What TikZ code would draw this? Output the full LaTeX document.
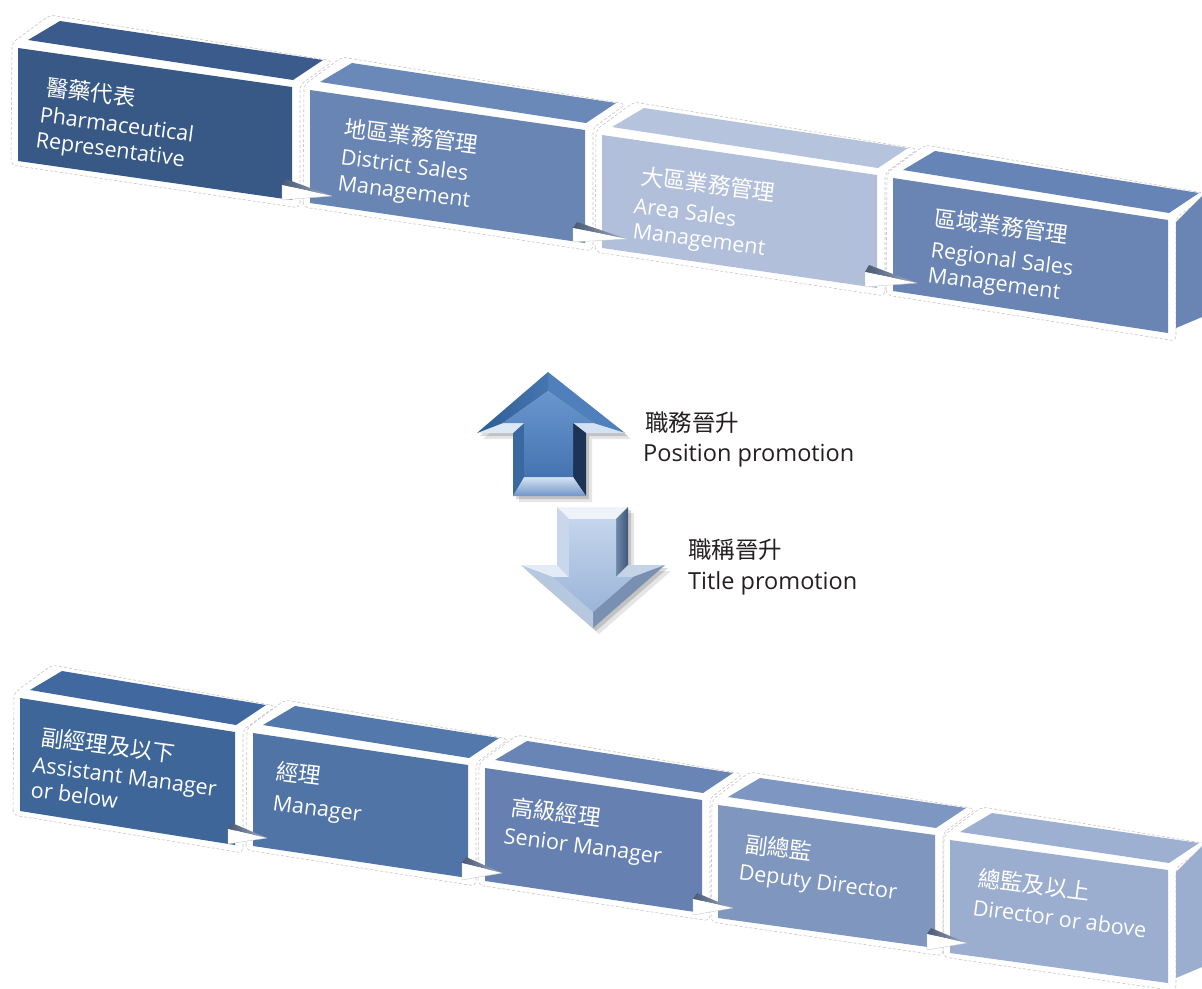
\documentclass[tikz,border=0pt]{standalone}
\usepackage{fontspec}
\setmainfont{Open Sans}
\newfontfamily\cjk{Noto Sans CJK TC}
\definecolor{ta}{HTML}{385886}
\definecolor{tat}{HTML}{3A5B8B}
\definecolor{tb}{HTML}{6985B3}
\definecolor{tbt}{HTML}{6A88B8}
\definecolor{tc}{HTML}{B2BFDA}
\definecolor{tct}{HTML}{B6C3DD}
\definecolor{td}{HTML}{6A85B3}
\definecolor{tdt}{HTML}{6784B6}
\definecolor{ba}{HTML}{3F6699}
\definecolor{bat}{HTML}{4169A0}
\definecolor{bb}{HTML}{5074A6}
\definecolor{bbt}{HTML}{5278AC}
\definecolor{bc}{HTML}{6681B1}
\definecolor{bct}{HTML}{6885B6}
\definecolor{bd}{HTML}{7F96BE}
\definecolor{bdt}{HTML}{7E97C2}
\definecolor{be}{HTML}{9CAECF}
\definecolor{bet}{HTML}{9DB0D2}
\definecolor{outlc}{HTML}{CFC3C3}
\definecolor{ptd}{HTML}{56698A}
\definecolor{txtc}{HTML}{231F20}
% up arrow colours
\definecolor{ua}{HTML}{4F80BB}
\definecolor{ub}{HTML}{D3E2F2}
\definecolor{uc}{HTML}{1C3556}
\definecolor{ud1}{HTML}{D5E3F3}
\definecolor{ud2}{HTML}{6F95C6}
\definecolor{ue}{HTML}{3A68A1}
\definecolor{uf}{HTML}{DCE8F5}
\definecolor{ug1}{HTML}{2E5C95}
\definecolor{ug2}{HTML}{4676B0}
\definecolor{uh1}{HTML}{6A96CE}
\definecolor{uh2}{HTML}{4474B0}
% down arrow colours
\definecolor{da}{HTML}{EEF3FA}
\definecolor{db1}{HTML}{7088AA}
\definecolor{db2}{HTML}{3F5778}
\definecolor{dc}{HTML}{C4D3E6}
\definecolor{dd}{HTML}{7990B2}
\definecolor{de}{HTML}{B6C8E0}
\definecolor{df}{HTML}{E3ECF6}
\definecolor{dg}{HTML}{C9D7EA}
\definecolor{dh1}{HTML}{C4D5EC}
\definecolor{dh2}{HTML}{9BB4D8}
\tikzset{
  outl/.style={draw=outlc, line width=0.6pt, dash pattern=on 3pt off 2pt, rounded corners=5pt},
  en/.style={anchor=base west, inner sep=0pt, text=white, rotate=-7.5, font=\fontsize{21.5}{25}\selectfont},
  cj/.style={anchor=base west, inner sep=0pt, text=white, rotate=-7.5, font=\cjk\fontsize{22.5}{27}\selectfont},
  midtxt/.style={anchor=base west, inner sep=0pt, text=txtc, font=\fontsize{23.5}{28}\selectfont},
  midcj/.style={anchor=base west, inner sep=0pt, text=txtc, font=\cjk\fontsize{23.5}{28}\selectfont},
  ptedge/.style={draw=gray!45, line width=0.4pt},
}
\newcommand\boxoutline[4]{%
  \draw[outl] ({#1-7},{#2+117}) -- ({#1-6},{#2-5}) -- ({#1+32},{#2-33}) -- ({#3+41},{#4-26}) -- ({#3+8},{#4-2}) -- ({#3+8},{#4+121}) -- cycle;}
\newcommand\boxfaces[6]{%
  \fill[#6] ({#1+10},{#2-8}) -- ({#1+42},{#2-27}) -- ({#3+31},{#4-27}) -- ({#3+1},{#4-7}) -- cycle;
  \fill[#5] (#1,#2) -- (#3,#4) -- (#3,{#4+113}) -- (#1,{#2+113}) -- cycle;}
\newcommand\sideface[3]{%
  \fill[#3] ({#1+8},{#2+2}) -- ({#1+34},{#2-24}) -- ({#1+34},{#2+97}) -- ({#1+8},{#2+108}) -- cycle;}
\newcommand\pointer[6]{%
  \shade[left color=ptd!85!black, right color=ptd!55!white] ({#1+4},#2) -- (#5,#6) -- (#1,#3) -- cycle;
  \fill[white] (#1,#3) -- (#5,#6) -- (#1,#4) -- cycle;
  \draw[ptedge] (#1,#3) -- (#1,#4) -- (#5,#6);}
\begin{document}
\begin{tikzpicture}[x=1pt,y=-1pt]
\useasboundingbox (0,0) rectangle (1202,988);
\fill[white] (0,0) rectangle (1202,988);
\clip (0,0) rectangle (1202,988);

% ---- outlines
\boxoutline{18}{48}{292}{87}
\boxoutline{310}{90}{585}{130}
\boxoutline{602}{135}{877}{175}
\boxoutline{893}{178}{1168}{220}
\boxoutline{20}{698}{235}{732}
\boxoutline{253}{733}{468}{765}
\boxoutline{485}{768}{702}{800}
\boxoutline{718}{805}{935}{835}
\boxoutline{950}{840}{1168}{870}

% ---- top row
\boxfaces{18}{48}{292}{87}{ta}{tat}
\boxfaces{310}{90}{585}{130}{tb}{tbt}
\boxfaces{602}{135}{877}{175}{tc}{tct}
\boxfaces{893}{178}{1168}{220}{td}{tdt}
\sideface{1168}{220}{td}

% ---- bottom row
\boxfaces{20}{698}{235}{732}{ba}{bat}
\boxfaces{253}{733}{468}{765}{bb}{bbt}
\boxfaces{485}{768}{702}{800}{bc}{bct}
\boxfaces{718}{805}{935}{835}{bd}{bdt}
\boxfaces{950}{840}{1168}{870}{be}{bet}
\sideface{1168}{870}{be}

% ---- pointers between boxes
\pointer{282}{179}{185}{200}{332}{196}
\pointer{573}{222}{228}{242}{627}{239}
\pointer{865}{265}{272}{287}{917}{283}
\pointer{228}{823}{829}{844}{267}{838}
\pointer{462}{857}{863}{880}{502}{873}
\pointer{693}{893}{899}{915}{733}{908}
\pointer{927}{928}{934}{950}{967}{943}

% ---- texts top row
\node[cj] (t1a) at (45,95) {醫藥代表};
\node[en] (t1b) at (39,122) {Pharmaceutical};
\node[en] (t1c) at (35,147) {Representative};
\node[cj] (t2a) at (343,136) {地區業務管理};
\node[en] (t2b) at (340,164) {District Sales};
\node[en] (t2c) at (337,190) {Management};
\node[cj] (t3a) at (640,184) {大區業務管理};
\node[en] (t3b) at (633,213) {Area Sales};
\node[en] (t3c) at (632,238) {Management};
\node[cj] (t4a) at (933,226) {區域業務管理};
\node[en] (t4b) at (930,257) {Regional Sales};
\node[en] (t4c) at (927,282) {Management};

% ---- texts bottom row
\node[cj] (b1a) at (40,745) {副經理及以下};
\node[en] (b1b) at (32,772) {Assistant Manager};
\node[en] (b1c) at (30,797) {or below};
\node[cj] (b2a) at (275,779) {經理};
\node[en] (b2b) at (272,810) {Manager};
\node[cj] (b3a) at (510,815) {高級經理};
\node[en] (b3b) at (503,843) {Senior Manager};
\node[cj] (b4a) at (744,852) {副總監};
\node[en] (b4b) at (738,879) {Deputy Director};
\node[cj] (b5a) at (977,886) {總監及以上};
\node[en] (b5b) at (972,915) {Director or above};

% ---- up arrow (position promotion)
\begin{scope}[shift={(6,6)}]
\fill[black,opacity=0.10] (548,372) -- (625,433) -- (586,433) -- (586,496) -- (513,496) -- (513,433) -- (477,433) -- cycle;
\end{scope}
\begin{scope}[shift={(3,3)}]
\fill[black,opacity=0.15] (548,372) -- (625,433) -- (586,433) -- (586,496) -- (513,496) -- (513,433) -- (477,433) -- cycle;
\end{scope}
\coordinate (uT) at (548,372);
\coordinate (uHR) at (625,433);
\coordinate (uSRt) at (586,433);
\coordinate (uSRb) at (586,496);
\coordinate (uSLb) at (513,496);
\coordinate (uSLt) at (513,433);
\coordinate (uHL) at (477,433);
\coordinate (uTi) at (548,391);
\coordinate (uHRi) at (593,423);
\coordinate (uSRti) at (573,423);
\coordinate (uSRbi) at (573,477);
\coordinate (uSLbi) at (524,477);
\coordinate (uSLti) at (524,423);
\coordinate (uHLi) at (503,423);
\fill[ua] (uT) -- (uHR) -- (uHRi) -- (uTi) -- cycle;
\fill[ub] (uHR) -- (uSRt) -- (uSRti) -- (uHRi) -- cycle;
\fill[uc] (uSRt) -- (uSRb) -- (uSRbi) -- (uSRti) -- cycle;
\shade[top color=ud1, bottom color=ud2] (uSRb) -- (uSLb) -- (uSLbi) -- (uSRbi) -- cycle;
\fill[ue] (uSLb) -- (uSLt) -- (uSLti) -- (uSLbi) -- cycle;
\fill[uf] (uSLt) -- (uHL) -- (uHLi) -- (uSLti) -- cycle;
\shade[left color=ug1, right color=ug2] (uHL) -- (uT) -- (uTi) -- (uHLi) -- cycle;
\shade[top color=uh1, bottom color=uh2] (uTi) -- (uHRi) -- (uSRti) -- (uSRbi) -- (uSLbi) -- (uSLti) -- (uHLi) -- cycle;

% ---- down arrow (title promotion)
\begin{scope}[shift={(6,6)}]
\fill[black,opacity=0.10] (557,507) -- (628,507) -- (628,565) -- (665,565) -- (593,628) -- (521,565) -- (557,565) -- cycle;
\end{scope}
\begin{scope}[shift={(3,3)}]
\fill[black,opacity=0.15] (557,507) -- (628,507) -- (628,565) -- (665,565) -- (593,628) -- (521,565) -- (557,565) -- cycle;
\end{scope}
\coordinate (dSLt) at (557,507);
\coordinate (dSRt) at (628,507);
\coordinate (dSRb) at (628,565);
\coordinate (dHR) at (665,565);
\coordinate (dT) at (593,628);
\coordinate (dHL) at (521,565);
\coordinate (dSLb) at (557,565);
\coordinate (dSLti) at (569,519);
\coordinate (dSRti) at (616,519);
\coordinate (dSRbi) at (616,577);
\coordinate (dHRi) at (633,577);
\coordinate (dTi) at (593,612);
\coordinate (dHLi) at (553,577);
\coordinate (dSLbi) at (569,577);
\fill[da] (dSLt) -- (dSRt) -- (dSRti) -- (dSLti) -- cycle;
\shade[left color=db1, right color=db2] (dSRt) -- (dSRb) -- (dSRbi) -- (dSRti) -- cycle;
\fill[dc] (dSRb) -- (dHR) -- (dHRi) -- (dSRbi) -- cycle;
\fill[dd] (dHR) -- (dT) -- (dTi) -- (dHRi) -- cycle;
\fill[de] (dT) -- (dHL) -- (dHLi) -- (dTi) -- cycle;
\fill[df] (dHL) -- (dSLb) -- (dSLbi) -- (dHLi) -- cycle;
\fill[dg] (dSLb) -- (dSLt) -- (dSLti) -- (dSLbi) -- cycle;
\shade[top color=dh1, bottom color=dh2] (dSLti) -- (dSRti) -- (dSRbi) -- (dHRi) -- (dTi) -- (dHLi) -- (dSLbi) -- cycle;

% ---- middle labels
\node[midcj] (pp1) at (645,431) {職務晉升};
\node[midtxt] (pp2) at (643,461) {Position promotion};
\node[midcj] (tp1) at (688,558) {職稱晉升};
\node[midtxt] (tp2) at (688,589) {Title promotion};
\end{tikzpicture}
\end{document}
